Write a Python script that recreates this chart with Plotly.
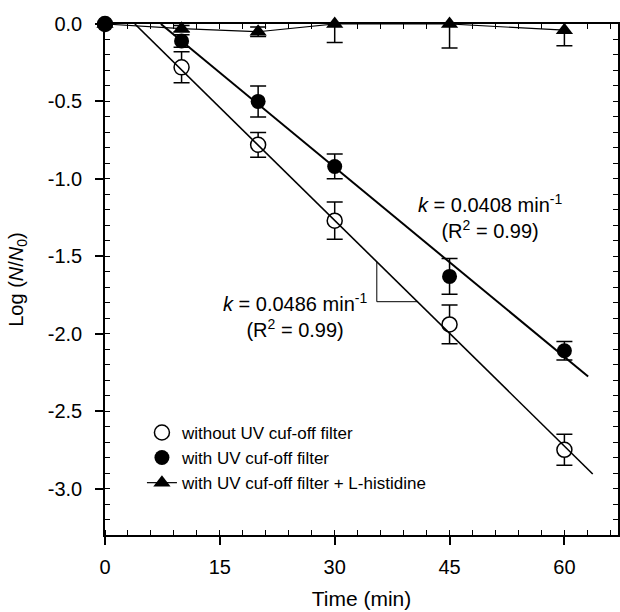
import plotly.graph_objects as go

# Inactivation data: sampling times (min) and log reduction with standard deviations
time_min = [0, 10, 20, 30, 45, 60]

no_filter_log = [0.0, -0.28, -0.78, -1.27, -1.94, -2.75]
no_filter_sd = [0.0, 0.10, 0.08, 0.12, 0.125, 0.10]

filter_log = [0.0, -0.11, -0.50, -0.92, -1.63, -2.11]
filter_sd = [0.0, 0.04, 0.10, 0.08, 0.115, 0.06]

histidine_log = [0.0, -0.03, -0.05, 0.0, 0.0, -0.04]
histidine_sd = [0.0, 0.02, 0.03, 0.12, 0.155, 0.10]

series_names = [
    "without UV cuf-off filter",
    "with UV cuf-off filter",
    "with UV cuf-off filter + L-histidine",
]

# First-order fits (log N/N0 = -k (t - t_lag)) drawn from lag to end time
fit_k = [0.0486, 0.0408]
fit_r2 = [0.99, 0.99]
fit_lag = [3.9, 7.3]
fit_end = [63.7, 63.1]

# Slope indicator drawn on the first fit between these two times
slope_marker_t = [35.5, 40.8]

x_ticks = [0, 15, 30, 45, 60]
y_ticks = [0.0, -0.5, -1.0, -1.5, -2.0, -2.5, -3.0]
y_tick_text = ["0.0", "-0.5", "-1.0", "-1.5", "-2.0", "-2.5", "-3.0"]

FONT = "Arial, Liberation Sans, sans-serif"
BLACK = "#000000"

fig = go.Figure()


def err_trace(y, sd):
    # error bars only, clipped to the plotting area
    return go.Scatter(
        x=time_min, y=y, mode="markers",
        marker=dict(size=1, color="rgba(0,0,0,0)"),
        error_y=dict(type="data", array=sd, visible=True, color=BLACK,
                     thickness=1.5, width=8),
        cliponaxis=True, showlegend=False, hoverinfo="skip",
    )


fig.add_trace(err_trace(histidine_log, histidine_sd))
fig.add_trace(err_trace(no_filter_log, no_filter_sd))
fig.add_trace(err_trace(filter_log, filter_sd))

fig.add_trace(go.Scatter(
    x=time_min, y=histidine_log, mode="lines+markers", name=series_names[2],
    line=dict(color=BLACK, width=1.2),
    marker=dict(symbol="triangle-up", size=15, color=BLACK),
    cliponaxis=False, legendrank=3,
))
fig.add_trace(go.Scatter(
    x=time_min, y=no_filter_log, mode="markers", name=series_names[0],
    marker=dict(symbol="circle", size=15, color="white",
                line=dict(color=BLACK, width=1.5)),
    cliponaxis=False, legendrank=1,
))
fig.add_trace(go.Scatter(
    x=time_min, y=filter_log, mode="markers", name=series_names[1],
    marker=dict(symbol="circle", size=15, color=BLACK),
    cliponaxis=False, legendrank=2,
))


def fit_value(i, t):
    return -fit_k[i] * (t - fit_lag[i])


for i, w in zip(range(2), [1.6, 2.0]):
    fig.add_trace(go.Scatter(
        x=[fit_lag[i], fit_end[i]],
        y=[fit_value(i, fit_lag[i]), fit_value(i, fit_end[i])],
        mode="lines", line=dict(color=BLACK, width=w),
        showlegend=False, hoverinfo="skip", cliponaxis=False,
    ))

# slope indicator (vertical + horizontal leg) on the first fit
t1, t2 = slope_marker_t
fig.add_shape(type="line", x0=t1, x1=t1, y0=fit_value(0, t1), y1=fit_value(0, t2),
              line=dict(color=BLACK, width=1))
fig.add_shape(type="line", x0=t1, x1=t2, y0=fit_value(0, t2), y1=fit_value(0, t2),
              line=dict(color=BLACK, width=1))


def k_label(i):
    return (f"<i>k</i> = {fit_k[i]:.4f} min<sup>-1</sup><br>"
            f"(R<sup>2</sup> = {fit_r2[i]:.2f})")


fig.add_annotation(x=50.3, y=-1.24, text=k_label(1), showarrow=False,
                   font=dict(family=FONT, size=20, color=BLACK), align="center")
fig.add_annotation(x=24.8, y=-1.88, text=k_label(0), showarrow=False,
                   font=dict(family=FONT, size=20, color=BLACK), align="center")

# top and right frame with inside ticks
fig.update_layout(
    xaxis2=dict(overlaying="x", side="top", range=[0, 67], showgrid=False,
                zeroline=False, showline=True, linecolor=BLACK, linewidth=1.5,
                ticks="inside", ticklen=5, tickwidth=1.2, tickcolor=BLACK,
                dtick=3, tick0=0, showticklabels=False, mirror=False),
    yaxis2=dict(overlaying="y", side="right", range=[-3.3, 0], showgrid=False,
                zeroline=False, showline=True, linecolor=BLACK, linewidth=1.5,
                ticks="inside", ticklen=5, tickwidth=1.2, tickcolor=BLACK,
                dtick=0.1, tick0=0, showticklabels=False),
)
fig.add_trace(go.Scatter(x=[None], y=[None], xaxis="x2", yaxis="y2",
                         showlegend=False, hoverinfo="skip"))

fig.update_layout(
    width=620, height=612,
    margin=dict(l=105, r=2, t=24, b=77),
    paper_bgcolor="white", plot_bgcolor="white",
    font=dict(family=FONT, color=BLACK),
    showlegend=True,
    legend=dict(x=0.072, y=0.235, xanchor="left", yanchor="top",
                bgcolor="rgba(0,0,0,0)", font=dict(family=FONT, size=17),
                traceorder="normal", itemwidth=30),
    xaxis=dict(
        range=[0, 67], showgrid=False, zeroline=False,
        showline=True, linecolor=BLACK, linewidth=1.5,
        ticks="outside", ticklen=8, tickwidth=1.5, tickcolor=BLACK,
        tickvals=x_ticks, ticklabelstandoff=5,
        tickfont=dict(family=FONT, size=20, color=BLACK),
        minor=dict(ticks="inside", ticklen=5, tickwidth=1.2, tickcolor=BLACK,
                   dtick=3, tick0=0),
        title=dict(text="Time (min)", font=dict(family=FONT, size=21),
                   standoff=15),
    ),
    yaxis=dict(
        range=[-3.3, 0], showgrid=False, zeroline=False,
        showline=True, linecolor=BLACK, linewidth=1.5,
        ticks="outside", ticklen=8, tickwidth=1.5, tickcolor=BLACK,
        tickvals=y_ticks, ticktext=y_tick_text, ticklabelstandoff=9,
        tickfont=dict(family=FONT, size=20, color=BLACK),
        minor=dict(ticks="inside", ticklen=5, tickwidth=1.2, tickcolor=BLACK,
                   dtick=0.1, tick0=0),
        title=dict(text="Log (<i>N</i>/<i>N</i><sub>0</sub>)",
                   font=dict(family=FONT, size=20), standoff=19),
    ),
)

fig.write_html("out.html")
